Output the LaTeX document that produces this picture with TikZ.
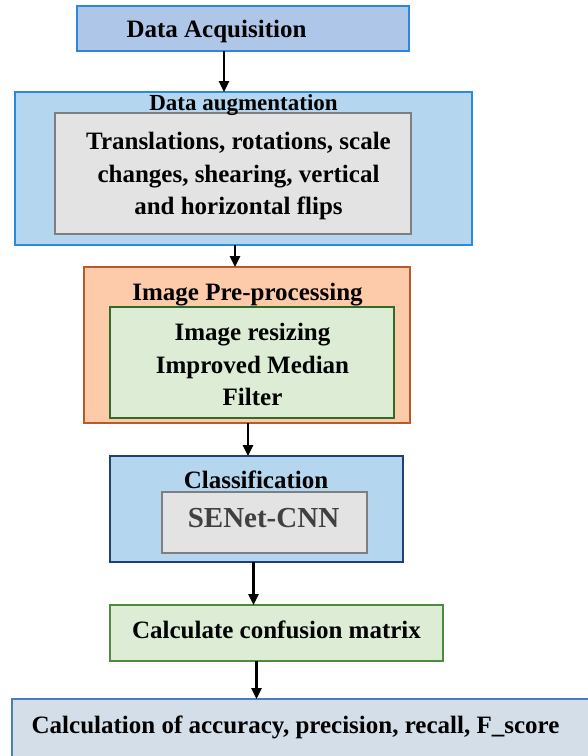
\documentclass[tikz,border=0pt]{standalone}
\usepackage{fontspec}
\setmainfont{Liberation Serif}
\usetikzlibrary{arrows.meta}
\definecolor{daFill}{HTML}{AEC6E8}
\definecolor{daLine}{HTML}{2E86DE}
\definecolor{augFill}{HTML}{B4D7EF}
\definecolor{augLine}{HTML}{2A8ADB}
\definecolor{grayFill}{HTML}{E3E3E3}
\definecolor{grayLine}{HTML}{7F7F7F}
\definecolor{preFill}{HTML}{FDCBAA}
\definecolor{preLine}{HTML}{B85A2E}
\definecolor{grnFill}{HTML}{DDEDD5}
\definecolor{grnLine}{HTML}{2F6B2A}
\definecolor{clsLine}{HTML}{1F3F77}
\definecolor{cmLine}{HTML}{4F8A3F}
\definecolor{finFill}{HTML}{D4DEE8}
\definecolor{finLine}{HTML}{4A7EB8}
\definecolor{senText}{HTML}{404040}
\begin{document}
\begin{tikzpicture}[x=1pt,y=-1pt,
  box/.style={draw, line width=1.5pt, inner sep=0pt, outer sep=0pt},
  lbl/.style={font=\bfseries\fontsize{25}{32.5}\selectfont, align=center, inner sep=0pt},
  arr/.style={-{Triangle[length=11pt,width=10pt]}, line width=2.6pt}]
\fill[white] (0,0) rectangle (588,756);
\useasboundingbox (0,0) rectangle (588,756);
% boxes
\node[box, fill=daFill, draw=daLine, minimum width=332pt, minimum height=45pt] (da) at (243,28.5) {};
\node[box, fill=augFill, draw=augLine, minimum width=457pt, minimum height=153pt] (aug) at (243.5,168.5) {};
\node[box, fill=grayFill, draw=grayLine, minimum width=356pt, minimum height=121pt] (augin) at (233,173.5) {};
\node[box, fill=preFill, draw=preLine, minimum width=326pt, minimum height=156pt] (pre) at (247,345) {};
\node[box, fill=grnFill, draw=grnLine, minimum width=284pt, minimum height=111pt] (prein) at (252,362.5) {};
\node[box, fill=augFill, draw=clsLine, minimum width=293pt, minimum height=106pt] (cls) at (256.5,509) {};
\node[box, fill=grayFill, draw=grayLine, minimum width=205pt, minimum height=61pt] (clsin) at (264.5,522.5) {};
\node[box, fill=grnFill, draw=cmLine, minimum width=333pt, minimum height=56pt] (cm) at (276.5,633) {};
\node[box, fill=finFill, draw=finLine, minimum width=583pt, minimum height=63pt] (fin) at (303.5,730.5) {};
% texts
\node[lbl, anchor=base] (tda) at (216.5,37.3) {Data Acquisition};
\node[lbl, anchor=base, font=\bfseries\fontsize{23}{28}\selectfont] (taug) at (243.5,110) {Data augmentation};
\node[lbl] (taugin) at (238.5,176.3) {Translations, rotations, scale\\changes, shearing, vertical\\and horizontal flips};
\node[lbl, anchor=base] (tpre) at (247.5,300) {Image Pre-processing};
\node[lbl] (tprein) at (252.5,364.5) {Image resizing\\Improved Median\\Filter};
\node[lbl, anchor=base] (tcls) at (256,488) {Classification};
\node[lbl, anchor=base, text=senText, font=\bfseries\fontsize{29}{34}\selectfont] (tsen) at (263.5,527.5) {SENet-CNN};
\node[lbl, anchor=base] (tcm) at (276.5,638) {Calculate confusion matrix};
\node[lbl, anchor=base] (tfin) at (295.5,733) {Calculation of accuracy, precision, recall, F\_score};
% arrow columns
\coordinate (c1) at (224,0);
\coordinate (c2) at (235,0);
\coordinate (c3) at (248,0);
\coordinate (c4) at (253.5,0);
\coordinate (c5) at (256.5,0);
\draw[arr] (da.south -| c1) -- (aug.north -| c1);
\draw[arr] (aug.south -| c2) -- (pre.north -| c2);
\draw[arr] (pre.south -| c3) -- (cls.north -| c3);
\draw[arr] (cls.south -| c4) -- (cm.north -| c4);
\draw[arr] (cm.south -| c5) -- (fin.north -| c5);
\end{tikzpicture}
\end{document}
